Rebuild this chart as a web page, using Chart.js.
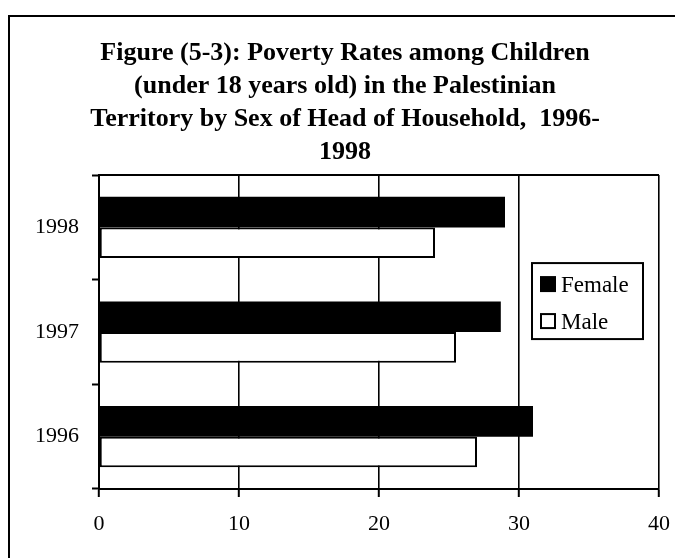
<!DOCTYPE html>
<html>
<head>
<meta charset="utf-8">
<title>Poverty Rates among Children 1996-1998</title>
<script src="https://cdn.jsdelivr.net/npm/chart.js@4.4.1/dist/chart.umd.min.js"></script>
<style>
  html, body { margin: 0; padding: 0; background: #ffffff; overflow: hidden; }
  #wrap { position: relative; width: 675px; height: 558px; }
  /* the outer frame of the figure, only its left and top sides are in the picture */
  #frame { position: absolute; left: 8px; top: 15px; width: 700px; height: 600px;
           border-left: 2px solid #000; border-top: 2px solid #000; box-sizing: border-box; }
  #PovertyChart { position: absolute; left: 0; top: 0; }
</style>
</head>
<body>
<div id="wrap">
  <div id="frame"></div>
  <canvas id="PovertyChart" width="675" height="558"></canvas>
</div>
<script>
// The years, from the top of the chart to the bottom
const years = ["1998", "1997", "1996"];
// Poverty rate (%) for children by sex of head of household
const femaleValues = [29, 28.7, 31];
const maleValues = [24, 25.5, 27];
// Values shown on the horizontal axis
const rateTicks = [0, 10, 20, 30, 40];
const titleLines = [
  "Figure (5-3): Poverty Rates among Children",
  "(under 18 years old) in the Palestinian",
  "Territory by Sex of Head of Household,  1996-",
  "1998"
];

const serif = "'Liberation Serif', 'Times New Roman', serif";

// Draws the top line of the plot box, the other sides come from the axes
const plotBox = {
  id: "plotBox",
  afterDraw(chart) {
    const a = chart.chartArea;
    const ctx = chart.ctx;
    ctx.save();
    ctx.strokeStyle = "#000";
    ctx.lineWidth = 2;
    ctx.beginPath();
    ctx.moveTo(a.left, a.top);
    ctx.lineTo(a.right, a.top);
    ctx.stroke();
    ctx.restore();
  }
};

// The legend sits inside the plot, between the 30 and 40 lines, so it is drawn here
const boxLegend = {
  id: "boxLegend",
  afterDraw(chart) {
    const a = chart.chartArea;
    const ctx = chart.ctx;
    const left = a.right - 127;
    const top = a.top + 88;
    ctx.save();
    ctx.fillStyle = "#fff";
    ctx.fillRect(left, top, 111, 76);
    ctx.strokeStyle = "#000";
    ctx.lineWidth = 2;
    ctx.strokeRect(left, top, 111, 76);
    ctx.font = "23px " + serif;
    ctx.textBaseline = "alphabetic";
    ctx.textAlign = "left";
    chart.data.datasets.forEach((ds, i) => {
      const rowY = top + 13 + i * 37;
      ctx.fillStyle = ds.backgroundColor;
      ctx.fillRect(left + 8, rowY, 16, 16);
      if (ds.borderWidth) {
        ctx.lineWidth = 2;
        ctx.strokeRect(left + 9, rowY + 1, 14, 14);
      }
      ctx.fillStyle = "#000";
      ctx.fillText(ds.label, left + 29, rowY + 16);
    });
    ctx.restore();
  }
};

function poverty_chart() {
  const ctx = document.getElementById("PovertyChart").getContext("2d");
  return new Chart(ctx, {
    type: "bar",
    data: {
      labels: years,
      datasets: [
        {
          label: "Female",
          data: femaleValues,
          backgroundColor: "#000000",
          borderWidth: 0
        },
        {
          label: "Male",
          data: maleValues,
          backgroundColor: "#ffffff",
          borderColor: "#000000",
          borderWidth: 2,
          borderSkipped: false
        }
      ]
    },
    options: {
      indexAxis: "y",
      responsive: false,
      animation: false,
      devicePixelRatio: 1,
      categoryPercentage: 0.585,
      barPercentage: 1.0,
      layout: { padding: { left: 31, right: 16, top: 37, bottom: 0 } },
      plugins: {
        legend: { display: false },
        tooltip: { enabled: false },
        title: {
          display: true,
          text: titleLines,
          color: "#000",
          font: { family: serif, size: 26, weight: "bold", lineHeight: 1.27 },
          padding: { top: 0, bottom: 6 }
        }
      },
      scales: {
        x: {
          min: 0,
          max: 40,
          afterBuildTicks: s => { s.ticks = rateTicks.map(v => ({ value: v })); },
          // fixed height, and no extra room asked for the end labels
          afterFit: s => { s.height = 69; s.paddingLeft = 0; s.paddingRight = 0; },
          grid: {
            color: "#000",
            lineWidth: 1.6,
            tickLength: 8,
            tickWidth: 2,
            tickColor: "#000"
          },
          border: { color: "#000", width: 2 },
          ticks: { color: "#000", padding: 14, font: { family: serif, size: 22 } }
        },
        y: {
          afterFit: s => { s.width = 68; },
          grid: {
            offset: true,
            drawOnChartArea: false,
            tickLength: 7,
            tickWidth: 2,
            tickColor: "#000"
          },
          border: { color: "#000", width: 2 },
          ticks: { color: "#000", padding: 13, font: { family: serif, size: 22 } }
        }
      }
    },
    plugins: [plotBox, boxLegend]
  });
}

poverty_chart();
</script>
</body>
</html>
